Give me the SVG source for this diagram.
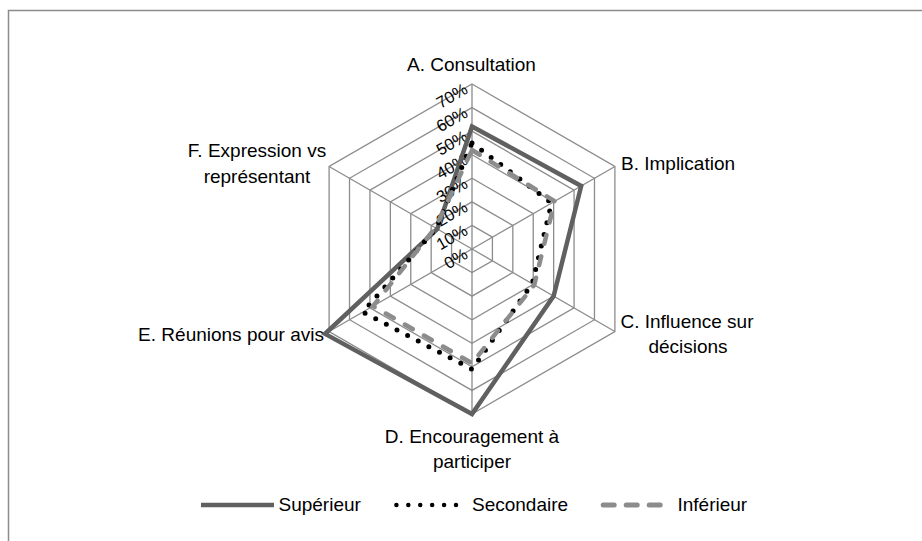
<svg xmlns="http://www.w3.org/2000/svg" width="922" height="541" viewBox="0 0 922 541">
<style>
text{font-family:"Liberation Sans",Arial,sans-serif;fill:#000}
.lbl{font-size:19px}
.tick{font-size:16.5px;text-anchor:end}
.grid{fill:none;stroke:#8c8c8c;stroke-width:1.3}
.sup{fill:none;stroke:#606060;stroke-width:4.5;stroke-linejoin:miter}
.sec{fill:none;stroke:#000;stroke-width:5;stroke-linecap:round;stroke-dasharray:0 12}
.inf{fill:none;stroke:#8c8c8c;stroke-width:4.5;stroke-linecap:round;stroke-dasharray:9 13}
</style>
<rect x="8.5" y="10.5" width="1000" height="1000" fill="#fff" stroke="#8c8c8c" stroke-width="1.5"/>
<g id="grid">
<polygon class="grid" points="472,225.43 492.41,237.21 492.41,260.79 472,272.57 451.59,260.79 451.59,237.21"/>
<polygon class="grid" points="472,201.86 512.83,225.43 512.83,272.57 472,296.14 431.17,272.57 431.17,225.43"/>
<polygon class="grid" points="472,178.29 533.24,213.64 533.24,284.36 472,319.71 410.76,284.36 410.76,213.64"/>
<polygon class="grid" points="472,154.71 553.65,201.86 553.65,296.14 472,343.29 390.35,296.14 390.35,201.86"/>
<polygon class="grid" points="472,131.14 574.07,190.07 574.07,307.93 472,366.86 369.93,307.93 369.93,190.07"/>
<polygon class="grid" points="472,107.57 594.48,178.29 594.48,319.71 472,390.43 349.52,319.71 349.52,178.29"/>
<polygon class="grid" points="472,84 614.89,166.5 614.89,331.5 472,414 329.11,331.5 329.11,166.5"/>
<path class="grid" d="M472,249V84M472,249L614.89,166.5M472,249L614.89,331.5M472,249V414M472,249L329.11,331.5M472,249L329.11,166.5"/>
</g>
<g id="ticks">
<text class="tick" transform="translate(469,92.5) rotate(-30)">70%</text>
<text class="tick" transform="translate(469,116.1) rotate(-30)">60%</text>
<text class="tick" transform="translate(469,139.6) rotate(-30)">50%</text>
<text class="tick" transform="translate(469,163.2) rotate(-30)">40%</text>
<text class="tick" transform="translate(469,186.8) rotate(-30)">30%</text>
<text class="tick" transform="translate(469,210.4) rotate(-30)">20%</text>
<text class="tick" transform="translate(469,233.9) rotate(-30)">10%</text>
<text class="tick" transform="translate(469,257.5) rotate(-30)">0%</text>
</g>
<g id="connectors">
<polygon id="s-superieur" class="sup" points="472,126.43 581.2,185.95 553.65,296.14 472,414 325.03,333.86 437.3,228.96"/>
<polygon id="s-secondaire" class="sec" points="472,142.93 551.61,203.04 532.22,283.77 472,369.21 362.8,312.05 436.28,228.37"/>
<polygon id="s-inferieur" class="inf" points="472,150 554.67,201.27 534.26,284.95 472,363.32 373,306.16 435.26,227.79"/>
</g>
<g id="node-A"><text class="lbl" x="471.5" y="71" text-anchor="middle">A. Consultation</text></g>
<g id="node-B"><text class="lbl" x="621" y="170">B. Implication</text></g>
<g id="node-C"><text class="lbl" x="687" y="328" text-anchor="middle">C. Influence sur</text><text class="lbl" x="688" y="353" text-anchor="middle">décisions</text></g>
<g id="node-D"><text class="lbl" x="472" y="443" text-anchor="middle">D. Encouragement à</text><text class="lbl" x="472" y="468" text-anchor="middle">participer</text></g>
<g id="node-E"><text class="lbl" x="324" y="341" text-anchor="end">E. Réunions pour avis</text></g>
<g id="node-F"><text class="lbl" x="257" y="157" text-anchor="middle">F. Expression vs</text><text class="lbl" x="257" y="183" text-anchor="middle">représentant</text></g>
<g id="legend">
<line x1="201" y1="505" x2="274" y2="505" stroke="#606060" stroke-width="4.5"/>
<text class="lbl" x="278.5" y="511">Supérieur</text>
<line x1="396.4" y1="505" x2="456" y2="505" stroke="#000" stroke-width="4.5" stroke-linecap="round" stroke-dasharray="0 11.92"/>
<text class="lbl" x="472" y="511">Secondaire</text>
<line x1="603.2" y1="505" x2="660.5" y2="505" stroke="#8c8c8c" stroke-width="5" stroke-linecap="round" stroke-dasharray="11 12"/>
<text class="lbl" x="677.5" y="511">Inférieur</text>
</g>
</svg>
